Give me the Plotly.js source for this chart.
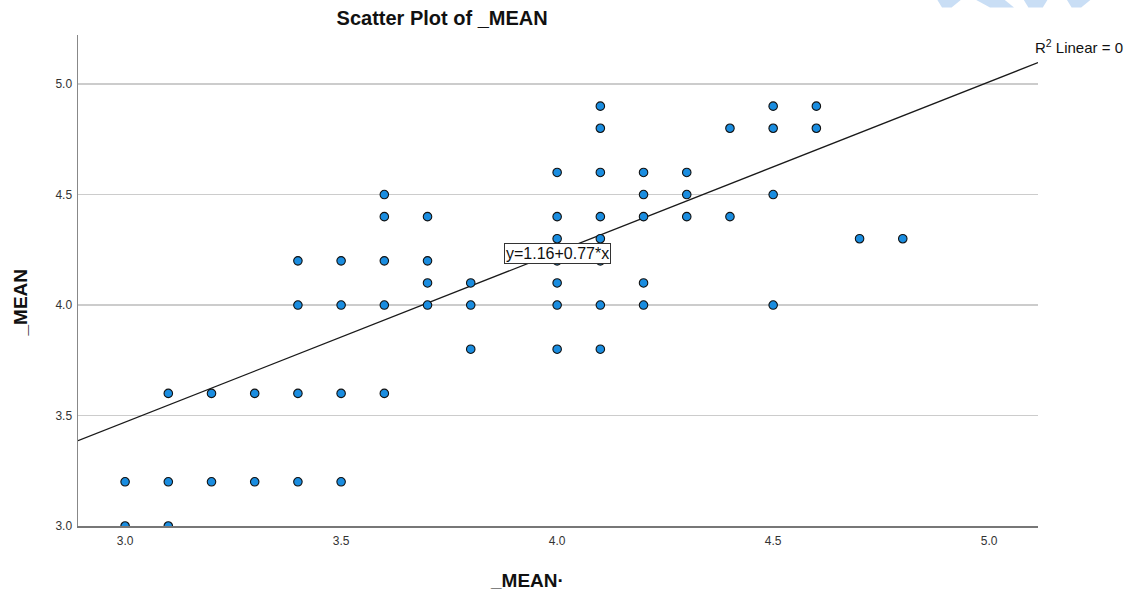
<!DOCTYPE html>
<html>
<head>
<meta charset="utf-8">
<script src="https://cdn.plot.ly/plotly-3.0.1.min.js"></script>
<style>html,body{margin:0;padding:0;background:#fff;}#chart{width:1128px;height:590px;}</style>
</head>
<body>
<div id="chart"></div>
<script>
// Observed data (x = _MEAN, y = _MEAN)
const xVals = [
  3.0, 3.0,
  3.1, 3.1, 3.1,
  3.2, 3.2,
  3.3, 3.3,
  3.4, 3.4, 3.4, 3.4,
  3.5, 3.5, 3.5, 3.5,
  3.6, 3.6, 3.6, 3.6, 3.6,
  3.7, 3.7, 3.7, 3.7,
  3.8, 3.8, 3.8,
  4.0, 4.0, 4.0, 4.0, 4.0, 4.0, 4.0,
  4.1, 4.1, 4.1, 4.1, 4.1, 4.1, 4.1, 4.1,
  4.2, 4.2, 4.2, 4.2, 4.2,
  4.3, 4.3, 4.3,
  4.4, 4.4,
  4.5, 4.5, 4.5, 4.5,
  4.6, 4.6,
  4.7,
  4.8
];
const yVals = [
  3.2, 3.0,
  3.6, 3.2, 3.0,
  3.6, 3.2,
  3.6, 3.2,
  4.2, 4.0, 3.6, 3.2,
  4.2, 4.0, 3.6, 3.2,
  4.5, 4.4, 4.2, 4.0, 3.6,
  4.4, 4.2, 4.1, 4.0,
  4.1, 4.0, 3.8,
  4.6, 4.4, 4.3, 4.2, 4.1, 4.0, 3.8,
  4.9, 4.8, 4.6, 4.4, 4.3, 4.2, 4.0, 3.8,
  4.6, 4.5, 4.4, 4.1, 4.0,
  4.6, 4.5, 4.4,
  4.8, 4.4,
  4.9, 4.8, 4.5, 4.0,
  4.9, 4.8,
  4.3,
  4.3
];
// Fit line coefficients (as printed on the chart)
const intercept = 1.16;
const slope = 0.77;
const xRange = [2.891, 5.113];
const yRange = [3.0, 5.222];
const xTicks = [3.0, 3.5, 4.0, 4.5, 5.0];
const yTicks = [3.0, 3.5, 4.0, 4.5, 5.0];

const fitX = xRange.slice();
const fitY = fitX.map(v => intercept + slope * v);

const font = 'Arial, "Liberation Sans", sans-serif';

const traces = [
  {
    x: fitX, y: fitY, type: 'scatter', mode: 'lines',
    line: {color: '#1a1a1a', width: 1.3},
    hoverinfo: 'skip', showlegend: false
  },
  {
    x: xVals, y: yVals, type: 'scatter', mode: 'markers',
    marker: {size: 8.5, color: '#1a8de0', line: {color: '#111', width: 1.1}},
    showlegend: false
  }
];

function wm(x0, x1, x2, x3) {
  return {type: 'path', xref: 'paper', yref: 'paper', layer: 'above',
    path: `M ${x0} 1.072 L ${x1} 1.072 L ${x2} 1.056 L ${x3} 1.056 Z`,
    fillcolor: '#c9def5', line: {width: 0}};
}

const layout = {
  width: 1128, height: 590,
  margin: {l: 78, r: 90, t: 35, b: 64},
  paper_bgcolor: '#fff', plot_bgcolor: '#fff',
  font: {family: font, color: '#333'},
  title: {
    text: '<b>Scatter Plot of _MEAN</b>',
    font: {family: font, size: 20, color: '#111'},
    xref: 'container', x: 0.392, xanchor: 'center',
    yref: 'container', y: 0.969, yanchor: 'middle'
  },
  xaxis: {
    range: xRange, tickvals: xTicks, ticktext: xTicks.map(v => v.toFixed(1)),
    showgrid: false, zeroline: false,
    showline: true, linecolor: '#777', linewidth: 1.5,
    ticks: '', ticklabelstandoff: 3, tickfont: {size: 12, color: '#333', family: font}
  },
  yaxis: {
    range: yRange, tickvals: yTicks, ticktext: yTicks.map(v => v.toFixed(1)),
    showgrid: true, gridcolor: '#cccccc', gridwidth: 1.2,
    zeroline: false, showline: true, linecolor: '#888', linewidth: 1.5,
    ticks: '', ticklabelstandoff: 2, tickfont: {size: 12, color: '#333', family: font}
  },
  annotations: [
    {
      xref: 'paper', yref: 'paper', x: 0.468, y: -0.11, xanchor: 'center', yanchor: 'middle',
      text: '<b>_MEAN·</b>', showarrow: false,
      font: {size: 19, color: '#111', family: font}
    },
    {
      xref: 'paper', yref: 'paper', x: -0.06, y: 0.456, xanchor: 'center', yanchor: 'middle',
      text: '<b>_MEAN</b>', showarrow: false, textangle: -90,
      font: {size: 19, color: '#111', family: font}
    },
    {
      xref: 'x', yref: 'y', x: 4.0, y: 4.234,
      text: 'y=1.16+0.77*x', showarrow: false,
      font: {size: 16, color: '#111', family: font},
      bgcolor: '#fff', bordercolor: '#333', borderwidth: 1, borderpad: 1
    },
    {
      xref: 'paper', yref: 'paper', x: 0.995, y: 0.976, xanchor: 'left', yanchor: 'middle',
      text: 'R<sup>2</sup> Linear = 0', showarrow: false,
      font: {size: 15, color: '#111', family: font}
    }
  ],
  shapes: [
    wm(0.895, 0.92, 0.91, 0.9),
    wm(0.935, 0.965, 0.975, 0.95),
    wm(0.985, 1.01, 1.005, 0.99),
    wm(1.03, 1.055, 1.045, 1.035)
  ]
};

Plotly.newPlot('chart', traces, layout, {displayModeBar: false, staticPlot: true});
</script>
</body>
</html>
